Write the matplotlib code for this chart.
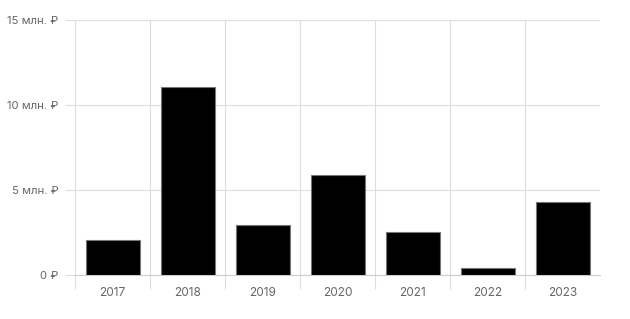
import numpy as np
import matplotlib.pyplot as plt

years = ['2017', '2018', '2019', '2020', '2021', '2022', '2023']
values = [2.06, 11.06, 2.94, 5.88, 2.53, 0.41, 4.29]  # млн. ₽
y_ticks = [0, 5, 10, 15]
y_labels = ['0 ₽', '5 млн. ₽', '10 млн. ₽', '15 млн. ₽']

plt.rcParams['font.family'] = ['Inter', 'DejaVu Sans']
grid_c = '#dddddd'
text_c = '#666666'

fig = plt.figure(figsize=(6.3, 3.19), dpi=100)
ax = fig.add_axes([75 / 630, 44 / 319, 525 / 630, 255 / 319])

x = np.arange(len(years))
ax.bar(x, values, width=0.72, color='black', edgecolor='#777777', linewidth=0.8, zorder=3)

ax.set_xlim(-0.5, len(years) - 0.5)
ax.set_ylim(0, 15)

ax.set_yticks(y_ticks)
ax.set_yticklabels(y_labels)
ax.set_xticks(x)
ax.set_xticklabels(years)
# category boundaries, last one has no line
ax.set_xticks(np.arange(-0.5, len(years) - 1), minor=True)

ax.tick_params(axis='y', length=7, color=grid_c, labelcolor=text_c, labelsize=8.2, pad=5)
ax.tick_params(axis='x', which='major', length=0, labelcolor=text_c, labelsize=8.5, pad=9)
ax.tick_params(axis='x', which='minor', length=10, color=grid_c, width=0.8)

ax.grid(axis='y', color=grid_c, linewidth=0.8, zorder=0)
ax.grid(axis='x', which='minor', color=grid_c, linewidth=0.8, zorder=0)

for s in ['top', 'right', 'left']:
    ax.spines[s].set_visible(False)
ax.spines['bottom'].set_color('#cccccc')
ax.spines['bottom'].set_linewidth(0.8)

fig.savefig('out.png', dpi=100, facecolor='white')
